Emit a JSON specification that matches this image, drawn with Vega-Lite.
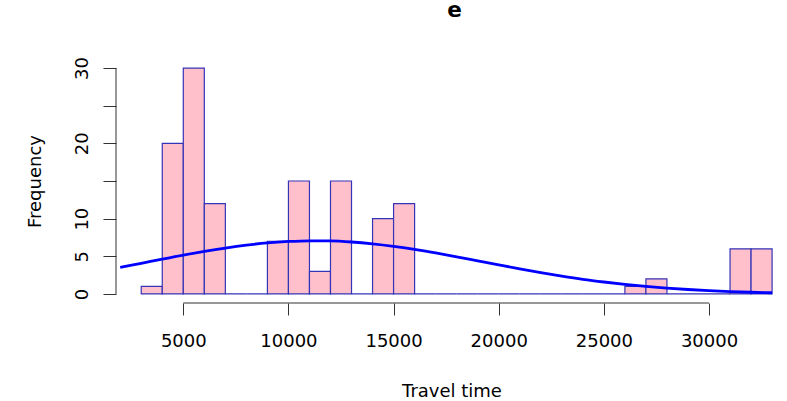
{
  "$schema": "https://vega.github.io/schema/vega-lite/v6.json",
  "autosize": {"type": "none"},
  "width": 671,
  "height": 244,
  "padding": {"left": 116, "top": 59, "right": 0, "bottom": 98},
  "background": "white",
  "config": {"view": {"stroke": null}, "font": "DejaVu Sans"},
  "title": {"text": "e", "frame": "group", "anchor": "middle", "dx": 3, "offset": 13, "baseline": "bottom", "fontSize": 21.6, "fontWeight": "bold", "font": "DejaVu Sans", "color": "black"},
  "datasets": {
    "bins": [
      {"lo": 3000, "hi": 4000, "count": 1},
      {"lo": 4000, "hi": 5000, "count": 20},
      {"lo": 5000, "hi": 6000, "count": 30},
      {"lo": 6000, "hi": 7000, "count": 12},
      {"lo": 7000, "hi": 8000, "count": 0},
      {"lo": 8000, "hi": 9000, "count": 0},
      {"lo": 9000, "hi": 10000, "count": 7},
      {"lo": 10000, "hi": 11000, "count": 15},
      {"lo": 11000, "hi": 12000, "count": 3},
      {"lo": 12000, "hi": 13000, "count": 15},
      {"lo": 13000, "hi": 14000, "count": 0},
      {"lo": 14000, "hi": 15000, "count": 10},
      {"lo": 15000, "hi": 16000, "count": 12},
      {"lo": 16000, "hi": 17000, "count": 0},
      {"lo": 17000, "hi": 18000, "count": 0},
      {"lo": 18000, "hi": 19000, "count": 0},
      {"lo": 19000, "hi": 20000, "count": 0},
      {"lo": 20000, "hi": 21000, "count": 0},
      {"lo": 21000, "hi": 22000, "count": 0},
      {"lo": 22000, "hi": 23000, "count": 0},
      {"lo": 23000, "hi": 24000, "count": 0},
      {"lo": 24000, "hi": 25000, "count": 0},
      {"lo": 25000, "hi": 26000, "count": 0},
      {"lo": 26000, "hi": 27000, "count": 1},
      {"lo": 27000, "hi": 28000, "count": 2},
      {"lo": 28000, "hi": 29000, "count": 0},
      {"lo": 29000, "hi": 30000, "count": 0},
      {"lo": 30000, "hi": 31000, "count": 0},
      {"lo": 31000, "hi": 32000, "count": 6},
      {"lo": 32000, "hi": 33000, "count": 6}
    ],
    "curve": [
      {"x": 2000, "y": 3.52}, {"x": 3000, "y": 4.07}, {"x": 4000, "y": 4.62},
      {"x": 5000, "y": 5.17}, {"x": 6000, "y": 5.66}, {"x": 7000, "y": 6.1},
      {"x": 8000, "y": 6.48}, {"x": 9000, "y": 6.78}, {"x": 10000, "y": 6.97},
      {"x": 11000, "y": 7.06}, {"x": 12000, "y": 7.04}, {"x": 13000, "y": 6.9},
      {"x": 14000, "y": 6.66}, {"x": 15000, "y": 6.33}, {"x": 16000, "y": 5.92},
      {"x": 17000, "y": 5.45}, {"x": 18000, "y": 4.94}, {"x": 19000, "y": 4.4},
      {"x": 20000, "y": 3.86}, {"x": 21000, "y": 3.33}, {"x": 22000, "y": 2.83},
      {"x": 23000, "y": 2.37}, {"x": 24000, "y": 1.95}, {"x": 25000, "y": 1.59},
      {"x": 26000, "y": 1.27}, {"x": 27000, "y": 1.0}, {"x": 28000, "y": 0.78},
      {"x": 29000, "y": 0.59}, {"x": 30000, "y": 0.44}, {"x": 31000, "y": 0.32},
      {"x": 32000, "y": 0.23}, {"x": 33000, "y": 0.16}
    ],
    "xaxisline": [{"a": 5000, "b": 30000, "y": -1.2}],
    "yaxisline": [{"x": 1800, "a": 0, "b": 30}]
  },
  "layer": [
    {
      "data": {"name": "bins"},
      "mark": {"type": "rect", "fill": "#FFC0CB", "stroke": "#3434b8", "strokeWidth": 1.2},
      "encoding": {
        "x": {
          "field": "lo", "type": "quantitative",
          "scale": {"domain": [1800, 33709], "nice": false, "zero": false},
          "axis": {
            "orient": "bottom", "domain": false, "grid": false,
            "values": [5000, 10000, 15000, 20000, 25000, 30000],
            "format": "d",
            "tickSize": 12, "tickColor": "#333333", "tickWidth": 1,
            "labelFontSize": 18, "labelFont": "DejaVu Sans", "labelColor": "black",
            "labelPadding": 17, "labelBaseline": "top",
            "title": "Travel time", "titleFontSize": 18, "titleFont": "DejaVu Sans",
            "titleFontWeight": "normal", "titleColor": "black",
            "titleBaseline": "alphabetic", "titleY": 93
          }
        },
        "x2": {"field": "hi"},
        "y": {
          "field": "count", "type": "quantitative",
          "scale": {"domain": [-1.2, 31.2], "nice": false, "zero": false},
          "axis": {
            "orient": "left", "domain": false, "grid": false,
            "values": [0, 5, 10, 15, 20, 25, 30],
            "labelExpr": "datum.value == 15 || datum.value == 25 ? '' : datum.label",
            "tickSize": 13, "tickColor": "#333333", "tickWidth": 1,
            "labelAngle": 270, "labelAlign": "center", "labelBaseline": "alphabetic",
            "labelPadding": 15.5, "labelFontSize": 18, "labelFont": "DejaVu Sans", "labelColor": "black",
            "title": "Frequency", "titleFontSize": 18, "titleFont": "DejaVu Sans",
            "titleFontWeight": "normal", "titleColor": "black",
            "titleAngle": 270, "titleAlign": "center", "titleBaseline": "alphabetic",
            "titleX": -76, "titleY": 122
          }
        },
        "y2": {"datum": 0}
      }
    },
    {
      "data": {"name": "curve"},
      "mark": {"type": "line", "color": "#0000FF", "strokeWidth": 2.8, "interpolate": "monotone"},
      "encoding": {
        "x": {"field": "x", "type": "quantitative"},
        "y": {"field": "y", "type": "quantitative"}
      }
    },
    {
      "data": {"name": "xaxisline"},
      "mark": {"type": "rule", "color": "#333333", "strokeWidth": 1},
      "encoding": {
        "x": {"field": "a", "type": "quantitative"},
        "x2": {"field": "b"},
        "y": {"field": "y", "type": "quantitative"}
      }
    },
    {
      "data": {"name": "yaxisline"},
      "mark": {"type": "rule", "color": "#333333", "strokeWidth": 1},
      "encoding": {
        "x": {"field": "x", "type": "quantitative"},
        "y": {"field": "a", "type": "quantitative"},
        "y2": {"field": "b"}
      }
    }
  ]
}
